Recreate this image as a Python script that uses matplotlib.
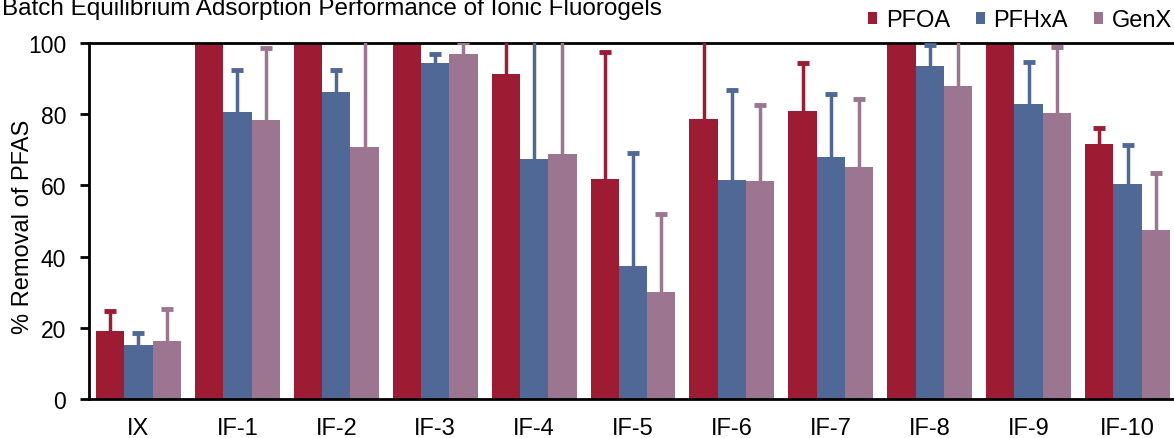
import matplotlib.pyplot as plt
import numpy as np

plt.rcParams['font.family'] = ['Liberation Sans', 'DejaVu Sans']

# Datos (% de remocion y barra de error superior)
muestras = ['IX', 'IF-1', 'IF-2', 'IF-3', 'IF-4', 'IF-5', 'IF-6', 'IF-7', 'IF-8', 'IF-9', 'IF-10']
pfoa = [19.2, 100, 100, 100, 91.2, 61.7, 78.6, 80.9, 100, 100, 71.6]
pfoa_err = [5.4, 0, 0, 0, 15, 35.9, 30, 13.5, 0, 0, 4.6]
pfhxa = [15.2, 80.7, 86.2, 94.5, 67.4, 37.4, 61.6, 68.1, 93.4, 82.8, 60.4]
pfhxa_err = [3.3, 11.8, 6.3, 2.4, 40, 31.6, 25.3, 17.7, 6.0, 12.0, 10.9]
genx = [16.4, 78.5, 70.8, 96.8, 68.7, 30.0, 61.3, 65.3, 88.0, 80.2, 47.6]
genx_err = [8.9, 20.2, 35, 3.6, 40, 22.1, 21.4, 18.9, 20, 18.8, 15.9]

series = ['PFOA', 'PFHxA', 'GenX']
colores = ['#9E1C33', '#506895', '#9C7690']

fig = plt.figure(figsize=(11.74, 4.39), dpi=100)
ax = fig.add_axes([89 / 1174, 39 / 439, (1177 - 89) / 1174, (400 - 44) / 439])

x = np.arange(len(muestras))
ancho = 0.286
valores = [pfoa, pfhxa, genx]
errores = [pfoa_err, pfhxa_err, genx_err]

for i in range(3):
    pos = x + (i - 1) * ancho
    val = np.array(valores[i])
    err = np.array(errores[i])
    ax.bar(pos, val, width=ancho, color=colores[i], label=series[i], zorder=2)
    # solo barra de error hacia arriba (estilo Excel "plus")
    con_err = err > 0
    ax.vlines(pos[con_err], val[con_err], val[con_err] + err[con_err],
              color=colores[i], linewidth=2.5, zorder=3)
    ax.plot(pos[con_err], val[con_err] + err[con_err], linestyle='none',
            marker='_', markersize=9, markeredgewidth=3.5, color=colores[i],
            zorder=3, clip_on=True)

ax.set_xlim(-0.5, 10.5)
ax.set_ylim(0, 100)
ax.set_yticks([0, 20, 40, 60, 80, 100])
ax.set_xticks(x)
ax.set_xticklabels(muestras)
ax.tick_params(axis='x', length=0, labelsize=17, pad=13)
ax.tick_params(axis='y', length=6.5, width=2, labelsize=16.5, pad=10)

for lado in ['left', 'bottom', 'top']:
    ax.spines[lado].set_linewidth(2)
ax.spines['right'].set_visible(False)

fig.text(23 / 1174, 1 - 227 / 439, '% Removal of PFAS', fontsize=17,
         rotation=90, ha='center', va='center')

fig.text(0.002, 1 - 15 / 439, 'Batch Equilibrium Adsorption Performance of Ionic Fluorogels',
         fontsize=17.5, ha='left', va='baseline')

ax.legend(loc='center right', bbox_to_anchor=(1172 / 1174, 1 - 21 / 439),
          bbox_transform=fig.transFigure, ncol=3, frameon=False, fontsize=17,
          handlelength=0.4, handleheight=0.4, handletextpad=0.35,
          columnspacing=1.1, borderaxespad=0, borderpad=0)

plt.savefig('out.png', dpi=100)
